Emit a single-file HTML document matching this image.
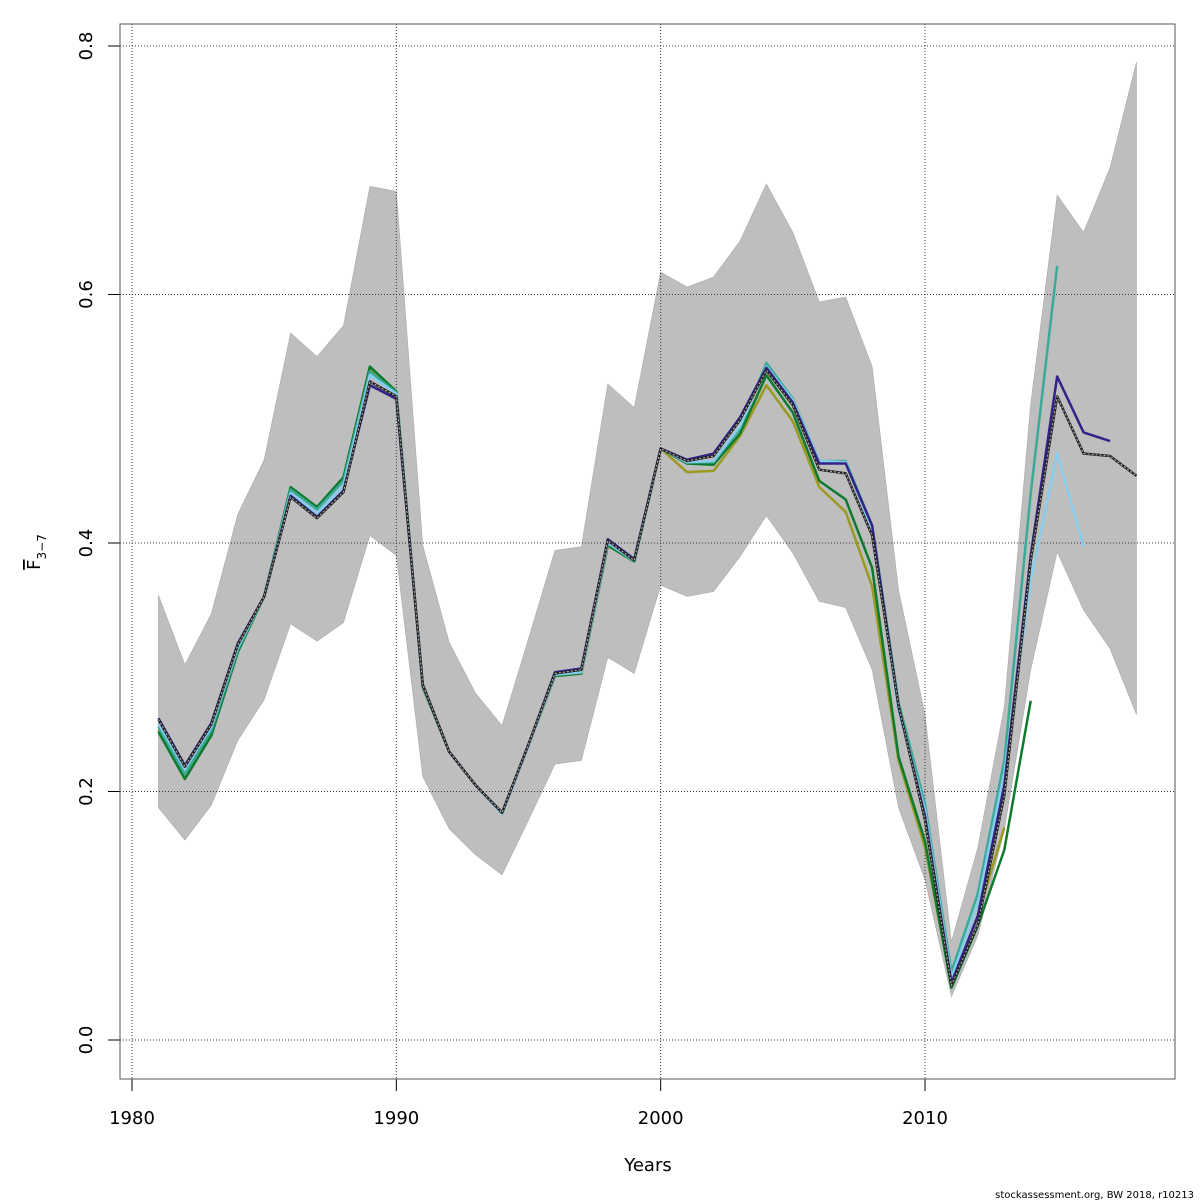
<!DOCTYPE html>
<html><head><meta charset="utf-8"><style>
body{margin:0;background:#fff}
svg{display:block;font-family:"DejaVu Sans","Liberation Sans",sans-serif}
</style></head><body>
<svg id="chart" width="1200" height="1200" viewBox="0 0 1200 1200" xmlns="http://www.w3.org/2000/svg">
<rect x="0" y="0" width="1200" height="1200" fill="#fff"/>
<g id="band"></g>
<g id="grid"></g>
<g id="series"></g>
<g id="axes"></g>
<rect x="120" y="24" width="1055" height="1055" fill="none" stroke="#555" stroke-width="1"/>
<text x="648" y="1171" font-size="18" text-anchor="middle">Years</text>
<text transform="translate(40,552) rotate(-90)" font-size="18" text-anchor="middle"><tspan text-decoration="overline">F</tspan><tspan font-size="12" dy="6">3−7</tspan></text>
<text x="1194" y="1198" font-size="10" text-anchor="end">stockassessment.org, BW  2018, r10213</text>
</svg>
<script>
const years=[1981,1982,1983,1984,1985,1986,1987,1988,1989,1990,1991,1992,1993,1994,1995,1996,1997,1998,1999,2000,2001,2002,2003,2004,2005,2006,2007,2008,2009,2010,2011,2012,2013,2014,2015,2016,2017,2018];
const baseF=[0.258,0.220,0.254,0.318,0.357,0.437,0.420,0.441,0.530,0.518,0.286,0.232,0.205,0.183,0.238,0.295,0.298,0.402,0.386,0.476,0.466,0.470,0.499,0.539,0.511,0.459,0.456,0.406,0.269,0.177,0.044,0.093,0.197,0.386,0.518,0.472,0.470,0.454];
const upperF=[0.358,0.302,0.343,0.423,0.467,0.569,0.550,0.575,0.687,0.683,0.398,0.320,0.279,0.253,0.323,0.394,0.397,0.528,0.509,0.618,0.606,0.614,0.643,0.689,0.650,0.594,0.598,0.542,0.362,0.262,0.079,0.155,0.268,0.512,0.680,0.650,0.702,0.787];
const lowerF=[0.187,0.161,0.189,0.241,0.274,0.335,0.321,0.336,0.406,0.390,0.212,0.170,0.149,0.133,0.177,0.222,0.225,0.308,0.295,0.366,0.357,0.361,0.389,0.422,0.392,0.353,0.348,0.298,0.187,0.129,0.035,0.084,0.169,0.298,0.393,0.346,0.315,0.262];
const navyF=[0.259,0.221,0.255,0.319,0.357,0.438,0.421,0.442,0.527,0.516,0.286,0.232,0.205,0.183,0.238,0.296,0.299,0.403,0.387,0.476,0.467,0.472,0.501,0.541,0.513,0.464,0.464,0.414,0.268,0.180,0.046,0.100,0.205,0.390,0.534,0.489,0.482];
const lightblueF=[0.255,0.218,0.252,0.316,0.357,0.440,0.424,0.446,0.535,0.520,0.286,0.232,0.205,0.182,0.237,0.294,0.296,0.400,0.386,0.476,0.465,0.466,0.494,0.542,0.515,0.466,0.465,0.410,0.265,0.185,0.050,0.110,0.215,0.370,0.472,0.397];
const tealF=[0.252,0.214,0.249,0.314,0.357,0.443,0.427,0.450,0.538,0.521,0.285,0.232,0.205,0.182,0.237,0.294,0.296,0.400,0.385,0.476,0.465,0.465,0.492,0.545,0.516,0.466,0.466,0.414,0.272,0.190,0.055,0.118,0.225,0.440,0.623];
const oliveF=[0.250,0.212,0.247,0.313,0.357,0.443,0.428,0.452,0.540,0.521,0.284,0.232,0.205,0.182,0.237,0.293,0.295,0.398,0.385,0.476,0.457,0.458,0.486,0.527,0.498,0.445,0.425,0.365,0.225,0.155,0.045,0.100,0.171];
const greenF=[0.248,0.210,0.245,0.312,0.357,0.445,0.429,0.453,0.542,0.522,0.284,0.232,0.205,0.182,0.237,0.293,0.295,0.398,0.385,0.476,0.464,0.463,0.488,0.535,0.505,0.450,0.435,0.380,0.228,0.160,0.042,0.092,0.153,0.273];
const xTicks=[1980,1990,2000,2010];
const yTicks=[0.0,0.2,0.4,0.6,0.8];
const yTickLabels=["0.0","0.2","0.4","0.6","0.8"];

const NS="http://www.w3.org/2000/svg";
const X=v=>132+(v-1980)*(925-132)/30;
const Y=v=>1040-v*(1040-46)/0.8;
function mk(tag,parent){const e=document.createElementNS(NS,tag);document.getElementById(parent).appendChild(e);return e;}

let pts=years.map((y,i)=>X(y)+","+Y(upperF[i]));
for(let i=years.length-1;i>=0;i--)pts.push(X(years[i])+","+Y(lowerF[i]));
const band=mk('polygon','band');


band.setAttribute('points',pts.join(' '));band.setAttribute('fill','#bebebe');band.setAttribute('stroke','#aaa');band.setAttribute('stroke-width','0.6');

xTicks.forEach(t=>{const l=mk('line','grid');


l.setAttribute('x1',X(t));l.setAttribute('x2',X(t));l.setAttribute('y1',24);l.setAttribute('y2',1079);l.setAttribute('stroke','#333');l.setAttribute('stroke-dasharray','1,2');l.setAttribute('stroke-width','1');});
yTicks.forEach(t=>{const l=mk('line','grid');


l.setAttribute('x1',120);l.setAttribute('x2',1175);l.setAttribute('y1',Y(t));l.setAttribute('y2',Y(t));l.setAttribute('stroke','#333');l.setAttribute('stroke-dasharray','1,2');l.setAttribute('stroke-width','1');});

function line(arr,color,name,w,dash){const p=mk('polyline','series');


p.setAttribute('points',arr.map((v,i)=>X(years[i])+","+Y(v)).join(' '));p.setAttribute('fill','none');p.setAttribute('stroke',color);p.setAttribute('stroke-width',w);p.setAttribute('stroke-linejoin','round');if(dash)p.setAttribute('stroke-dasharray',dash);return p;}
line(oliveF,'#9a9a22','series-olive',2.5);
line(greenF,'#0d7a2e','series-green',2.5);
line(tealF,'#3aaa99','series-teal',2.5);
line(lightblueF,'#88ccee','series-lightblue',2.5);
line(navyF,'#332288','series-navy',2.5);
line(baseF,'#222','series-base',2.5);
line(baseF,'#bbb','series-base-dash',1,'2,2');

function axl(x1,y1,x2,y2,n){const l=mk('line','axes');


l.setAttribute('x1',x1);l.setAttribute('y1',y1);l.setAttribute('x2',x2);l.setAttribute('y2',y2);l.setAttribute('stroke','#000');l.setAttribute('stroke-width','1');}
axl(X(1980),1079,X(2010),1079,'x-axis-line');
axl(120,Y(0),120,Y(0.8),'y-axis-line');
xTicks.forEach(t=>{axl(X(t),1079,X(t),1091,'x-tick');
const tx=mk('text','axes');


tx.setAttribute('x',X(t));tx.setAttribute('y',1124);tx.setAttribute('font-size','18');tx.setAttribute('text-anchor','middle');tx.textContent=t;});
yTicks.forEach((t,i)=>{axl(108,Y(t),120,Y(t),'y-tick');
const tx=mk('text','axes');


tx.setAttribute('transform','translate(92,'+Y(t)+') rotate(-90)');tx.setAttribute('font-size','18');tx.setAttribute('text-anchor','middle');tx.textContent=yTickLabels[i];});
</script>
</body></html>
